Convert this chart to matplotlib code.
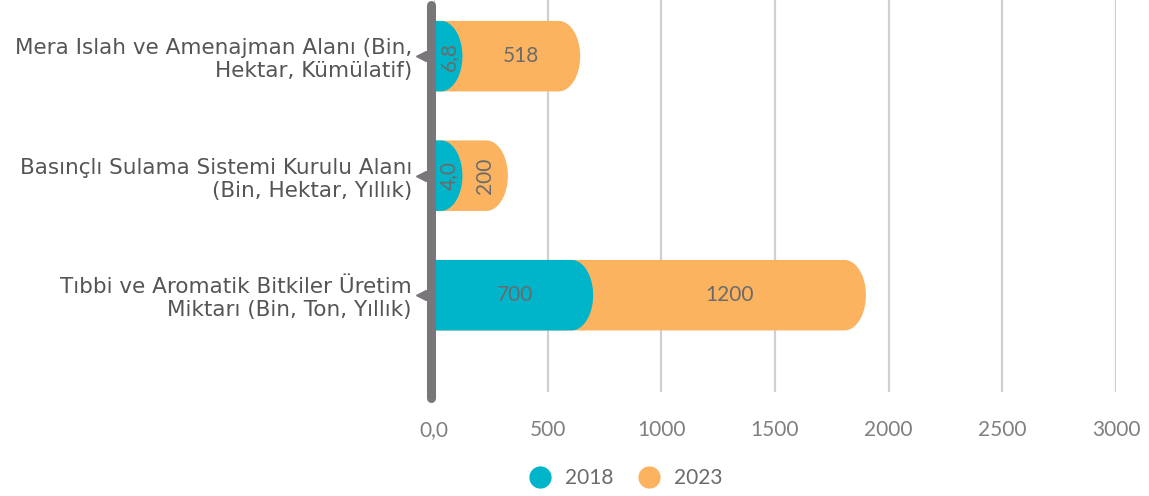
import numpy as np
import matplotlib.pyplot as plt
from matplotlib.patches import Polygon
from matplotlib.lines import Line2D

# data
categories = ["Mera Islah ve Amenajman Alanı (Bin,\nHektar, Kümülatif)",
              "Basınçlı Sulama Sistemi Kurulu Alanı\n(Bin, Hektar, Yıllık)",
              "Tıbbi ve Aromatik Bitkiler Üretim\nMiktarı (Bin, Ton, Yıllık)"]
v2018 = [6.8, 4.0, 700]
v2023 = [518, 200, 1200]
labels2018 = ["6,8", "4,0", "700"]
labels2023 = ["518", "200", "1200"]
years = ["2018", "2023"]
xticks = [0, 500, 1000, 1500, 2000, 2500, 3000]
xticklabels = ["0,0", "500", "1000", "1500", "2000", "2500", "3000"]

c18 = "#00b5c9"
c23 = "#fbb360"
axis_gray = "#7a747b"
txt_gray = "#6b6b6b"

plt.rcParams['font.family'] = ['Lato', 'DejaVu Sans']

fig = plt.figure(figsize=(11.49, 4.96), dpi=100)
ax = fig.add_axes([434/1149, 104/496, (1116-434)/1149, 392/496])
ax.set_xlim(0, 3000)
ax.set_ylim(2.81, -0.47)

cap = 95      # width of rounded end (data units)
min_w = 125   # smallest drawn width so tiny values stay visible
h = 0.59


def rounded_bar(ax, left, right, yc, color):
    c = min(cap, right - left)
    t = np.linspace(-np.pi/2, np.pi/2, 60)
    arc = np.column_stack([right - c + c*np.cos(t), yc + h/2*np.sin(t)])
    pts = np.vstack([[left, yc - h/2], arc, [left, yc + h/2]])
    ax.add_patch(Polygon(pts, closed=True, facecolor=color, edgecolor='none', zorder=3))


for i in range(len(categories)):
    r18 = max(v2018[i], min_w)
    r23 = r18 + v2023[i]
    rounded_bar(ax, 0, r23, i, c23)
    rounded_bar(ax, 0, r18, i, c18)
    rot18 = 90 if r18 < 250 else 0
    rot23 = 90 if v2023[i] < 250 else 0
    ax.text(r18/2 + 5, i, labels2018[i], rotation=rot18, ha='center', va='center',
            fontsize=15, color=txt_gray, zorder=5)
    ax.text((r18 + r23)/2, i, labels2023[i], rotation=rot23, ha='center', va='center',
            fontsize=15, color=txt_gray, zorder=5)

# vertical axis bar with little pointers
ax.plot([-15, -15], [-0.43, 2.86], color=axis_gray, lw=6.5, solid_capstyle='round',
        clip_on=False, zorder=6)
ax.plot([-55]*3, range(3), ls='none', marker='<', ms=7, color=axis_gray,
        clip_on=False, zorder=6)

ax.set_xticks(xticks)
ax.set_xticklabels(xticklabels, fontsize=15, color="#7f7f7f")
ax.tick_params(axis='x', length=0, pad=20)
ax.set_yticks(range(3))
ax.set_yticklabels(categories, fontsize=15.5, color="#555555", family=['DejaVu Sans'])
ax.tick_params(axis='y', length=0, pad=16)
ax.grid(axis='x', color="#d0d0d0", lw=1.6, zorder=0)
ax.set_axisbelow(True)
for s in ax.spines.values():
    s.set_visible(False)

handles = [Line2D([], [], ls='none', marker='o', ms=15, color=c) for c in (c18, c23)]
fig.legend(handles, years, loc='center', bbox_to_anchor=(0.54, 0.036), ncol=2,
           frameon=False, handletextpad=0.2, columnspacing=0.7,
           labelcolor=txt_gray, prop={'size': 15})

fig.savefig("out.png", dpi=100)
